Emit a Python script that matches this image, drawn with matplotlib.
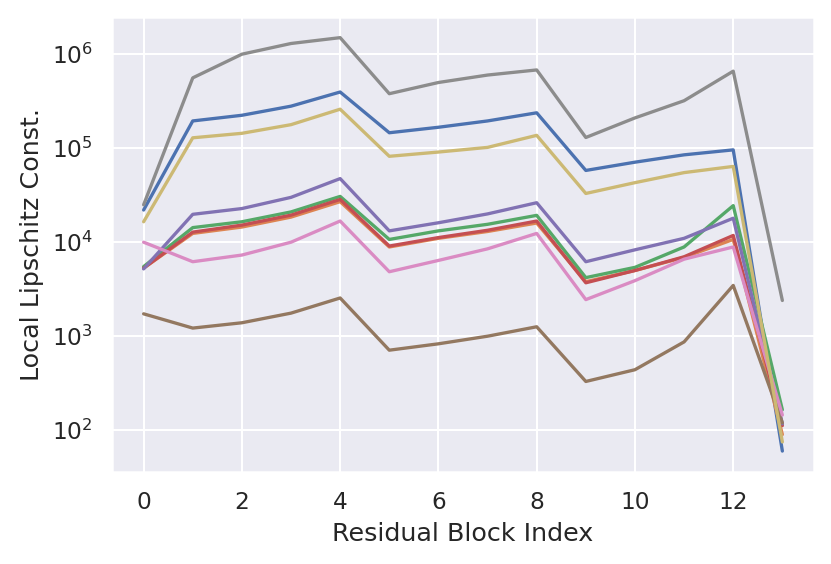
import matplotlib
matplotlib.use("Agg")
import matplotlib.pyplot as plt
import seaborn as sns
import numpy as np

sns.set_theme(style="darkgrid")
plt.rcParams['font.family'] = ['DejaVu Sans']

blocks = list(range(14))

s_blue   = [2.2e4, 1.95e5, 2.24e5, 2.8e5, 3.96e5, 1.46e5, 1.67e5, 1.95e5, 2.38e5, 5.8e4, 7.1e4, 8.5e4, 9.6e4, 60]
s_orange = [5300, 1.24e4, 1.45e4, 1.85e4, 2.7e4, 8.9e3, 1.1e4, 1.3e4, 1.6e4, 3800, 5000, 6900, 1.07e4, 90]
s_green  = [5500, 1.43e4, 1.65e4, 2.1e4, 3.07e4, 1.07e4, 1.32e4, 1.55e4, 1.93e4, 4200, 5400, 8900, 2.45e4, 165]
s_red    = [5300, 1.28e4, 1.52e4, 1.94e4, 2.85e4, 9.1e3, 1.12e4, 1.34e4, 1.68e4, 3700, 5000, 7000, 1.18e4, 112]
s_purple = [5200, 1.98e4, 2.28e4, 3.0e4, 4.75e4, 1.32e4, 1.61e4, 2.0e4, 2.63e4, 6200, 8300, 1.1e4, 1.8e4, 117]
s_brown  = [1730, 1220, 1390, 1760, 2550, 710, 830, 1000, 1260, 330, 440, 870, 3470, 120]
s_pink   = [1.0e4, 6200, 7300, 1.0e4, 1.68e4, 4850, 6400, 8500, 1.24e4, 2450, 3900, 6600, 8900, 145]
s_gray   = [2.5e4, 5.6e5, 1.0e6, 1.3e6, 1.5e6, 3.8e5, 5.0e5, 6.0e5, 6.8e5, 1.3e5, 2.1e5, 3.2e5, 6.6e5, 2400]
s_olive  = [1.65e4, 1.29e5, 1.44e5, 1.78e5, 2.6e5, 8.2e4, 9.1e4, 1.02e5, 1.37e5, 3.3e4, 4.3e4, 5.5e4, 6.4e4, 75]

series = [s_blue, s_orange, s_green, s_red, s_purple, s_brown, s_pink, s_gray, s_olive]
palette = sns.color_palette("deep")

fig = plt.figure(figsize=(831/144, 564/144), dpi=144)
ax = fig.add_axes([0.1344, 0.1636, 0.8455, 0.8063])
for i, s in enumerate(series):
    ax.plot(blocks, s, color=palette[i], lw=1.65)
ax.set_yscale('log')
ax.set_xticks([0, 2, 4, 6, 8, 10, 12])
ax.tick_params(labelsize=11.6)
ax.set_xlabel("Residual Block Index", fontsize=12.7)
ax.set_ylabel("Local Lipschitz Const.", fontsize=12.7)
fig.savefig("out.png", dpi=144)
